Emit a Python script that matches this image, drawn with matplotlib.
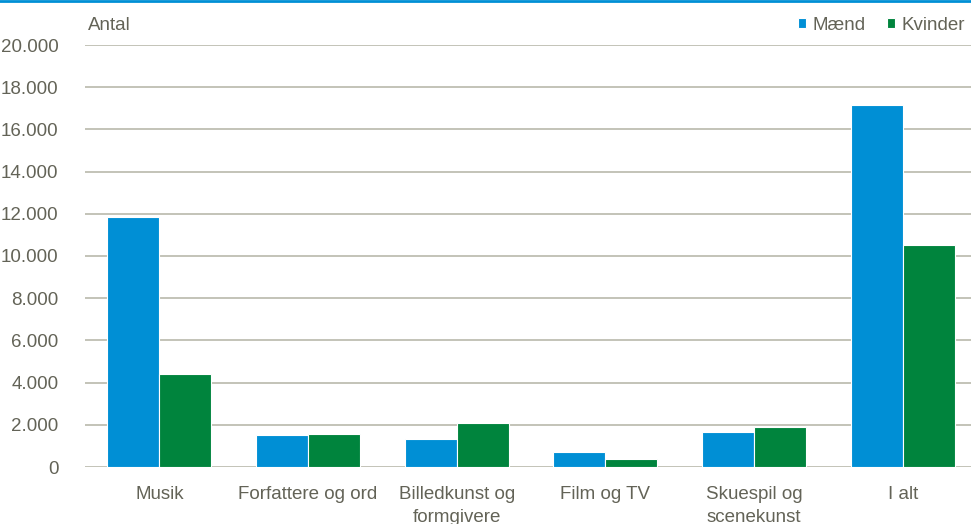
import matplotlib.pyplot as plt
import numpy as np

categories = ["Musik", "Forfattere og ord", "Billedkunst og\nformgivere",
              "Film og TV", "Skuespil og\nscenekunst", "I alt"]
maend = [11870, 1520, 1330, 710, 1670, 17160]
kvinder = [4410, 1560, 2100, 360, 1880, 10500]
yticks = [0, 2000, 4000, 6000, 8000, 10000, 12000, 14000, 16000, 18000, 20000]

blue = "#008FD5"
green = "#00843D"
grid_col = "#BEBEB2"
text_col = "#636357"

plt.rcParams['font.family'] = ['Liberation Sans', 'DejaVu Sans']

fig = plt.figure(figsize=(9.71, 5.24), dpi=100)
ax = fig.add_axes([85/971, (524-467)/524, (977-85)/971, (467-45)/524])

x = np.arange(len(categories))
width = 0.35
ax.bar(x - width/2, maend, width=width, color=blue, edgecolor="white", linewidth=0.8, label="Mænd", zorder=3)
ax.bar(x + width/2, kvinder, width=width, color=green, edgecolor="white", linewidth=0.8, label="Kvinder", zorder=3)

ax.set_xlim(-0.5, len(categories) - 0.5)
ax.set_ylim(0, 20000)
ax.set_yticks(yticks)
ax.set_yticklabels([f"{v:,}".replace(",", ".") for v in yticks])
ax.set_xticks(x)
ax.set_xticklabels(categories)
ax.tick_params(axis="both", length=0, colors=text_col, labelsize=13.5)
ax.tick_params(axis="y", pad=19)
ax.tick_params(axis="x", pad=14)
for lab in ax.get_xticklabels():
    lab.set_linespacing(1.4)
ax.grid(axis="y", color=grid_col, linewidth=1.3, zorder=0)
for s in ax.spines.values():
    s.set_visible(False)

fig.text(88/971, 1 - 26/524, "Antal", color=text_col, fontsize=13.5, va="center")
fig.legend(loc="center right", bbox_to_anchor=(965/971, 1 - 25/524), ncol=2, frameon=False,
           borderpad=0, borderaxespad=0,
           handlelength=0.45, handleheight=0.45, handletextpad=0.35, columnspacing=1.1,
           fontsize=13.5, labelcolor=text_col)

fig.add_artist(plt.Line2D([0, 1], [0.998, 0.998], color=blue, linewidth=2, transform=fig.transFigure))

fig.savefig("out.png", dpi=100)
